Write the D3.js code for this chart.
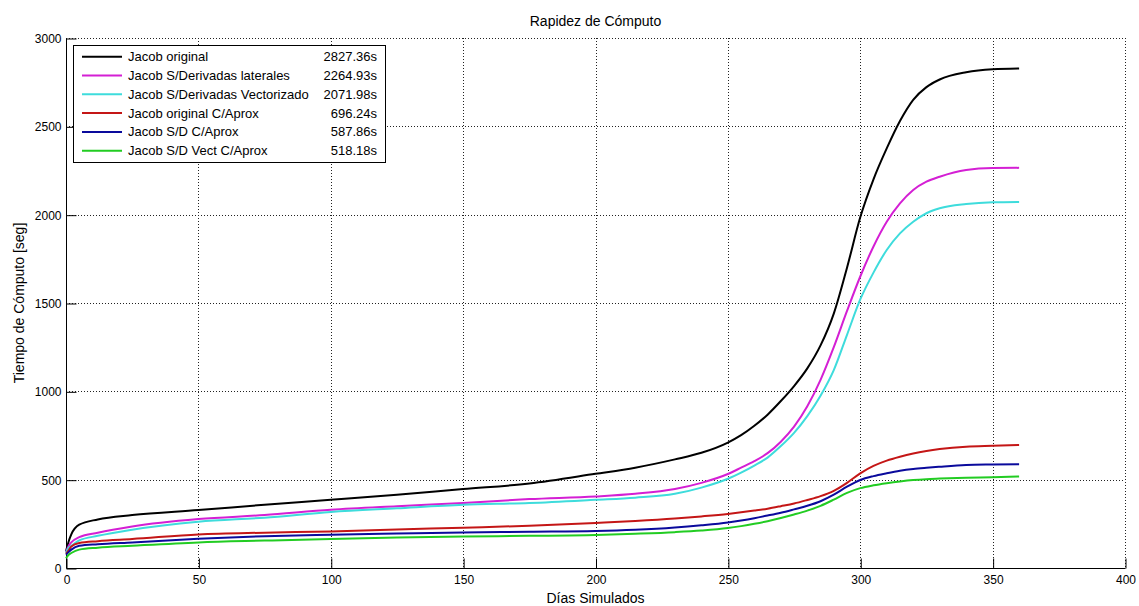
<!DOCTYPE html>
<html>
<head>
<meta charset="utf-8">
<script src="https://cdn.jsdelivr.net/npm/d3@7"></script>
<style>
  html, body { margin: 0; padding: 0; background: #fff; }
  svg { display: block; font-family: "Liberation Sans", Arial, sans-serif; }
</style>
</head>
<body>
<svg id="chart" width="1139" height="606"></svg>
<script>
// ---- data ----
const days = [0, 1, 2, 5, 12, 25, 50, 75, 100, 125, 150, 175, 200, 215, 230, 240, 250, 255, 260, 265, 270, 275, 280, 285, 290, 295, 300, 305, 310, 315, 320, 325, 330, 340, 350, 360];

const jacobOriginal = [95, 150, 190, 245, 275, 300, 328, 358, 386, 415, 447, 478, 533, 568, 615, 652, 710, 752, 805, 868, 945, 1030, 1130, 1260, 1440, 1700, 1985, 2200, 2375, 2530, 2650, 2722, 2765, 2806, 2823, 2827.36];
const jacobSDerLat = [90, 125, 145, 175, 200, 235, 277, 300, 330, 350, 368, 390, 405, 420, 447, 482, 532, 568, 605, 650, 715, 800, 915, 1065, 1250, 1455, 1650, 1820, 1960, 2064, 2140, 2187, 2215, 2253, 2264, 2264.93];
const jacobSDerVect = [85, 115, 125, 156, 182, 217, 262, 285, 317, 338, 358, 368, 386, 398, 420, 455, 505, 540, 580, 625, 690, 765, 860, 975, 1120, 1320, 1520, 1672, 1800, 1894, 1960, 2008, 2036, 2060, 2070, 2071.98];
const jacobOrigAprox = [80, 100, 122, 141, 152, 164, 190, 200, 207, 218, 228, 239, 255, 266, 280, 292, 306, 315, 325, 336, 350, 365, 385, 407, 437, 482, 536, 578, 608, 630, 648, 662, 673, 687, 692, 696.24];
const jacobSDAprox = [75, 90, 104, 126, 135, 145, 165, 180, 188, 195, 201, 205, 209, 216, 229, 242, 258, 269, 282, 297, 313, 332, 352, 378, 415, 460, 498, 520, 536, 550, 560, 567, 573, 583, 586, 587.86];
const jacobSDVectAprox = [55, 75, 85, 104, 115, 126, 145, 155, 164, 172, 178, 182, 187, 194, 203, 212, 226, 237, 250, 265, 283, 303, 325, 352, 387, 425, 452, 468, 480, 490, 498, 503, 506, 511, 514, 518.18];

const seriesNames = ["Jacob original", "Jacob S/Derivadas laterales", "Jacob S/Derivadas Vectorizado", "Jacob original C/Aprox", "Jacob S/D C/Aprox", "Jacob S/D Vect C/Aprox"];
const seriesTimes = ["2827.36s", "2264.93s", "2071.98s", "696.24s", "587.86s", "518.18s"];
const seriesColors = ["#000000", "#d41fd4", "#3edcdc", "#c41616", "#0a0a9c", "#22cc22"];
const seriesValues = [jacobOriginal, jacobSDerLat, jacobSDerVect, jacobOrigAprox, jacobSDAprox, jacobSDVectAprox];

const xTicks = [0, 50, 100, 150, 200, 250, 300, 350, 400];
const yTicks = [0, 500, 1000, 1500, 2000, 2500, 3000];

const titleText = "Rapidez de Cómputo";
const xLabel = "Días Simulados";
const yLabel = "Tiempo de Cómputo [seg]";

// ---- layout ----
const svg = d3.select("#chart");
const pL = 66, pR = 1125, pT = 38, pB = 568;

const x = d3.scaleLinear().domain([0, 400]).range([pL, pR]);
const y = d3.scaleLinear().domain([0, 3000]).range([pB, pT]);

// grid
const grid = svg.append("g");
grid.selectAll("line.gv").data(xTicks.filter(d => d > 0)).join("line").attr("class", "gv")
  .attr("x1", d => Math.round(x(d)) + 0.5).attr("x2", d => Math.round(x(d)) + 0.5)
  .attr("y1", pT).attr("y2", pB)
  .attr("stroke", "#222").attr("stroke-width", 1).attr("stroke-dasharray", "1,2");
grid.selectAll("line.gh").data(yTicks.filter(d => d > 0)).join("line").attr("class", "gh")
  .attr("y1", d => Math.round(y(d)) + 0.5).attr("y2", d => Math.round(y(d)) + 0.5)
  .attr("x1", pL).attr("x2", pR)
  .attr("stroke", "#222").attr("stroke-width", 1).attr("stroke-dasharray", "1,2");

// axes
const xAxis = d3.axisBottom(x).tickValues(xTicks).tickSize(-10).tickPadding(7).tickFormat(d3.format("d"));
const gx = svg.append("g").attr("transform", `translate(0.5,${pB + 0.5})`).call(xAxis);
gx.select(".domain").attr("d", `M${pL},0H${pR}`).attr("stroke", "#000");
gx.selectAll(".tick line").attr("stroke", "#000");
gx.selectAll(".tick text").attr("font-size", 12).attr("font-family", "Liberation Sans, Arial, sans-serif").attr("fill", "#000");

const yAxis = d3.axisLeft(y).tickValues(yTicks).tickSize(-10).tickPadding(5).tickFormat(d3.format("d"));
const gy = svg.append("g").attr("transform", `translate(${pL + 0.5},0.5)`).call(yAxis);
gy.select(".domain").attr("d", `M0,${pB}V${pT}`).attr("stroke", "#000");
gy.selectAll(".tick line").attr("stroke", "#000");
gy.selectAll(".tick text").attr("font-size", 12).attr("font-family", "Liberation Sans, Arial, sans-serif").attr("fill", "#000");

// lines
const line = d3.line().x((d, i) => x(days[i])).y(d => y(d)).curve(d3.curveMonotoneX);
svg.append("g").selectAll("path").data(seriesValues).join("path")
  .attr("d", d => line(d))
  .attr("fill", "none")
  .attr("stroke", (d, i) => seriesColors[i])
  .attr("stroke-width", 2)
  .attr("stroke-linejoin", "round");

// title & labels
svg.append("text").attr("x", (pL + pR) / 2).attr("y", 26).attr("text-anchor", "middle")
  .attr("font-size", 14).text(titleText);
svg.append("text").attr("x", (pL + pR) / 2).attr("y", 603).attr("text-anchor", "middle")
  .attr("font-size", 14).text(xLabel);
svg.append("text").attr("transform", `translate(24,${(pT + pB) / 2}) rotate(-90)`).attr("text-anchor", "middle")
  .attr("font-size", 14).text(yLabel);

// legend
const lg = svg.append("g");
const lgX = 73, lgY = 45, lgW = 312, lgH = 117, rowH = 18.8, row0 = 56.7;
lg.append("rect").attr("x", lgX + 0.5).attr("y", lgY + 0.5).attr("width", lgW).attr("height", lgH)
  .attr("fill", "#fff").attr("stroke", "#000").attr("stroke-width", 1);
const rows = lg.selectAll("g.row").data(seriesNames).join("g")
  .attr("transform", (d, i) => `translate(0,${row0 + i * rowH})`);
rows.append("line").attr("x1", 82).attr("x2", 122).attr("y1", 0).attr("y2", 0)
  .attr("stroke", (d, i) => seriesColors[i]).attr("stroke-width", 2);
rows.append("text").attr("x", 128).attr("y", 4.5).attr("font-size", 13).text(d => d);
rows.append("text").attr("x", 377).attr("y", 4.5).attr("font-size", 13).attr("text-anchor", "end")
  .text((d, i) => seriesTimes[i]);
</script>
</body>
</html>
